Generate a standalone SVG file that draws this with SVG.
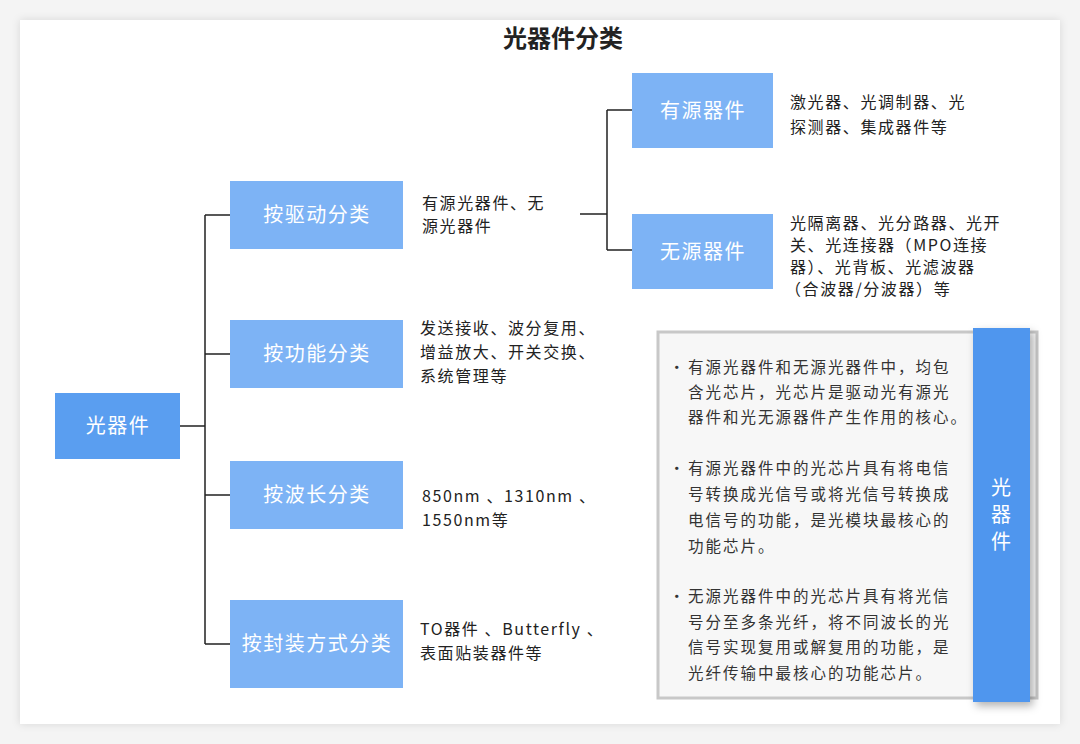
<svg xmlns="http://www.w3.org/2000/svg" width="1080" height="744" viewBox="0 0 1080 744">
<defs>
<filter id="sh" x="-10%" y="-10%" width="120%" height="120%"><feDropShadow dx="0" dy="0" stdDeviation="4" flood-color="#000" flood-opacity="0.12"/></filter>
<filter id="sh2" x="-30%" y="-10%" width="160%" height="120%"><feDropShadow dx="3" dy="4" stdDeviation="4" flood-color="#000" flood-opacity="0.3"/></filter>
</defs>
<style>
text{font-family:"Noto Sans CJK SC","Liberation Sans",sans-serif;fill:#222}
.b{fill:#7db3f5}
.bl{fill:#fff;font-size:20px;text-anchor:middle;letter-spacing:1.5px}
.v{fill:#fff;font-size:20px;text-anchor:middle}
.d{font-size:16px;letter-spacing:1.6px}
.s{font-size:15.5px;fill:#333;letter-spacing:2px}
.c{stroke:#222;stroke-width:1.5;fill:none}
</style>
<rect width="1080" height="744" fill="#f4f4f4"/>
<rect x="20" y="20" width="1040" height="704" fill="#fff" filter="url(#sh)"/>
<text x="563" y="47" font-size="24" font-weight="bold" text-anchor="middle" fill="#111">光器件分类</text>
<g id="connectors">
<path class="c" d="M180 426H205M205 215V644M205 215H230M205 354H230M205 495H230M205 644H230"/>
<path class="c" d="M580 214H607M607 110V250M607 110H632M607 250H632"/>
</g>
<g id="root"><rect x="55" y="393" width="125" height="66" fill="#5a9ef0"/><text class="bl" x="118" y="433">光器件</text></g>
<g id="n1"><rect class="b" x="230" y="181" width="173" height="68"/><text class="bl" x="317" y="222">按驱动分类</text></g>
<g id="n2"><rect class="b" x="230" y="320" width="173" height="68"/><text class="bl" x="317" y="361">按功能分类</text></g>
<g id="n3"><rect class="b" x="230" y="461" width="173" height="68"/><text class="bl" x="317" y="502">按波长分类</text></g>
<g id="n4"><rect class="b" x="230" y="600" width="173" height="88"/><text class="bl" x="317" y="651">按封装方式分类</text></g>
<g id="n5"><rect class="b" x="632" y="73" width="141" height="75"/><text class="bl" x="703" y="118">有源器件</text></g>
<g id="n6"><rect class="b" x="632" y="214" width="141" height="75"/><text class="bl" x="703" y="259">无源器件</text></g>
<g id="labels">
<text class="d" x="422" y="209">有源光器件、无</text><text class="d" x="422" y="232">源光器件</text>
<text class="d" x="420" y="334">发送接收、波分复用、</text><text class="d" x="420" y="358">增益放大、开关交换、</text><text class="d" x="420" y="382">系统管理等</text>
<text class="d" x="422" y="502">850nm 、1310nm 、</text><text class="d" x="422" y="526">1550nm等</text>
<text class="d" x="420" y="635">TO器件 、Butterfly 、</text><text class="d" x="420" y="659">表面贴装器件等</text>
<text class="d" x="790" y="108">激光器、光调制器、光</text><text class="d" x="790" y="133">探测器、集成器件等</text>
<text class="d" x="790" y="229" letter-spacing="1px">光隔离器、光分路器、光开</text><text class="d" x="790" y="251" letter-spacing="0.6px">关、光连接器（MPO连接</text><text class="d" x="790" y="273" letter-spacing="0.6px">器）、光背板、光滤波器</text><text class="d" x="785" y="295" letter-spacing="0.6px">（合波器/分波器）等</text>
</g>
<g id="panel">
<rect x="658" y="332" width="379" height="366" fill="#f7f7f7" stroke="#c8c8c8" stroke-width="3"/>
<text class="s" x="669" y="373">•</text>
<text class="s" x="688" y="373">有源光器件和无源光器件中，均包</text>
<text class="s" x="688" y="398">含光芯片，光芯片是驱动光有源光</text>
<text class="s" x="688" y="423">器件和光无源器件产生作用的核心。</text>
<text class="s" x="669" y="474">•</text>
<text class="s" x="688" y="474">有源光器件中的光芯片具有将电信</text>
<text class="s" x="688" y="500">号转换成光信号或将光信号转换成</text>
<text class="s" x="688" y="526">电信号的功能，是光模块最核心的</text>
<text class="s" x="688" y="552">功能芯片。</text>
<text class="s" x="669" y="602">•</text>
<text class="s" x="688" y="602">无源光器件中的光芯片具有将光信</text>
<text class="s" x="688" y="628">号分至多条光纤，将不同波长的光</text>
<text class="s" x="688" y="653">信号实现复用或解复用的功能，是</text>
<text class="s" x="688" y="679">光纤传输中最核心的功能芯片。</text>
<rect x="973" y="328" width="57" height="374" fill="#4f96ee" filter="url(#sh2)"/>
<text class="v" x="1001" y="495">光</text><text class="v" x="1001" y="522">器</text><text class="v" x="1001" y="549">件</text>
</g>
</svg>
